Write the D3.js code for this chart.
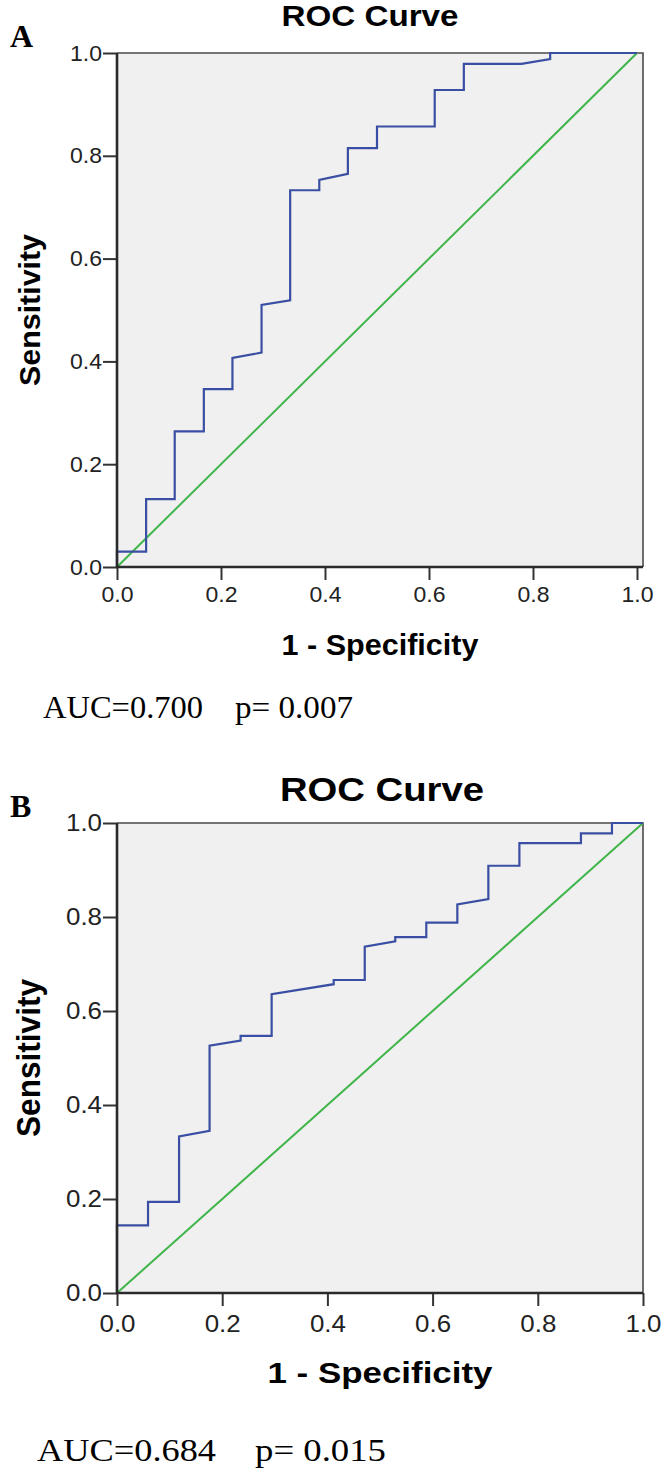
<!DOCTYPE html>
<html>
<head>
<meta charset="utf-8">
<script src="https://cdn.jsdelivr.net/npm/d3@7"></script>
<style>
  body { margin: 0; background: #fff; }
  svg { display: block; }
</style>
</head>
<body>
<svg id="chart"></svg>
<script>
// ROC points: x = 1 - specificity, y = sensitivity
const fprA = [0, 0, 0.056, 0.056, 0.111, 0.111, 0.167, 0.167, 0.222, 0.222, 0.278, 0.278, 0.333, 0.333,
              0.389, 0.389, 0.444, 0.444, 0.5, 0.5, 0.611, 0.611, 0.667, 0.667, 0.778, 0.833, 0.833, 1];
const tprA = [0, 0.030, 0.030, 0.132, 0.132, 0.264, 0.264, 0.346, 0.346, 0.407, 0.417, 0.510, 0.519, 0.733,
              0.733, 0.753, 0.765, 0.815, 0.815, 0.857, 0.857, 0.928, 0.928, 0.979, 0.979, 0.988, 1, 1];

const fprB = [0, 0, 0.059, 0.059, 0.118, 0.118, 0.176, 0.176, 0.235, 0.235, 0.294, 0.294, 0.412, 0.412,
              0.471, 0.471, 0.529, 0.529, 0.588, 0.588, 0.647, 0.647, 0.706, 0.706, 0.765, 0.765,
              0.882, 0.882, 0.941, 0.941, 1];
const tprB = [0, 0.144, 0.144, 0.194, 0.194, 0.333, 0.345, 0.526, 0.537, 0.547, 0.547, 0.636, 0.657, 0.666,
              0.666, 0.737, 0.748, 0.757, 0.757, 0.788, 0.788, 0.827, 0.838, 0.909, 0.909, 0.957,
              0.957, 0.978, 0.978, 1, 1];

// Reference line
const diagX = [0, 1];
const diagY = [0, 1];

const tickValues = [0, 0.2, 0.4, 0.6, 0.8, 1.0];
const panelLabels = ["A", "B"];
const titleText = "ROC Curve";
const xLabelText = "1 - Specificity";
const yLabelText = "Sensitivity";
const aucTexts = ["AUC=0.700", "AUC=0.684"];
const pTexts = ["p= 0.007", "p= 0.015"];

const sans = "'Liberation Sans', Arial, sans-serif";
const serif = "'Liberation Serif', 'Times New Roman', serif";

// Layout of each panel (pixels)
const layouts = [
    { x0: 117, x1: 637, frameRight: 643, top: 53, bottom: 567,
      labelY: 47, titleX: 370, titleY: 26, titleSize: 29, titleLen: 177,
      xLabY: 655, xLabSize: 29, xLabLen: 197,
      yLabX: 40, yLabSize: 30, yLabLen: 152,
      tickSize: 22, tickLen: 32, xTickPad: 6,
      statY: 718, aucX: 43, aucLen: 160, pX: 235, pLen: 118, statSize: 32 },
    { x0: 117, x1: 643, frameRight: 643, top: 823, bottom: 1293,
      labelY: 817, titleX: 382, titleY: 801, titleSize: 33, titleLen: 204,
      xLabY: 1383, xLabSize: 29, xLabLen: 225,
      yLabX: 40, yLabSize: 33, yLabLen: 158,
      tickSize: 23, tickLen: 36, xTickPad: 10,
      statY: 1461, aucX: 37, aucLen: 179, pX: 255, pLen: 131, statSize: 32 }
];

const series = [
    { fpr: fprA, tpr: tprA },
    { fpr: fprB, tpr: tprB }
];

const svg = d3.select("#chart")
    .attr("width", 662)
    .attr("height", 1472);

layouts.forEach((L, i) => {
    const g = svg.append("g");

    const x = d3.scaleLinear().domain([0, 1]).range([L.x0, L.x1]);
    const y = d3.scaleLinear().domain([0, 1]).range([L.bottom, L.top]);

    // Plot background
    g.append("rect")
        .attr("x", x(0))
        .attr("y", y(1))
        .attr("width", L.frameRight - x(0))
        .attr("height", y(0) - y(1))
        .attr("fill", "#f0f0f0");

    // Top and right frame
    g.append("path")
        .attr("d", `M${x(0)},${y(1)}H${L.frameRight}V${y(0)}`)
        .attr("fill", "none")
        .attr("stroke", "#4a4a4a")
        .attr("stroke-width", 1.6);

    // Diagonal reference
    const line = d3.line()
        .x(d => x(d[0]))
        .y(d => y(d[1]))
        .curve(d3.curveLinear);

    g.append("path")
        .datum(diagX.map((v, k) => [v, diagY[k]]))
        .attr("d", line)
        .attr("fill", "none")
        .attr("stroke", "#3fb54a")
        .attr("stroke-width", 2);

    // ROC curve
    const s = series[i];
    g.append("path")
        .datum(s.fpr.map((v, k) => [v, s.tpr[k]]))
        .attr("d", line)
        .attr("fill", "none")
        .attr("stroke", "#3a4fa3")
        .attr("stroke-width", 2.2)
        .attr("stroke-linejoin", "miter");

    // Axes
    const fmt = d3.format(".1f");
    const yAxis = g.append("g")
        .attr("transform", `translate(${x(0)},0)`)
        .call(d3.axisLeft(y).tickValues(tickValues).tickFormat(fmt)
            .tickSize(14).tickSizeOuter(0).tickPadding(1));
    const xAxis = g.append("g")
        .attr("transform", `translate(0,${y(0)})`)
        .call(d3.axisBottom(x).tickValues(tickValues).tickFormat(fmt)
            .tickSize(13).tickSizeOuter(0).tickPadding(L.xTickPad));

    [yAxis, xAxis].forEach(ax => {
        ax.select(".domain").remove();
        ax.selectAll(".tick line").attr("stroke", "#333").attr("stroke-width", 2);
        ax.selectAll(".tick text")
            .attr("fill", "#222")
            .style("font-family", sans)
            .style("font-size", L.tickSize + "px")
            .attr("textLength", L.tickLen)
            .attr("lengthAdjust", "spacingAndGlyphs");
    });

    // Thick left and bottom axis lines
    g.append("path")
        .attr("d", `M${x(0)},${y(1)}V${y(0)}H${L.frameRight}`)
        .attr("fill", "none")
        .attr("stroke", "#2a2a2a")
        .attr("stroke-width", 2.6);

    // Panel letter
    g.append("text")
        .attr("x", 10)
        .attr("y", L.labelY)
        .style("font-family", serif)
        .style("font-weight", "bold")
        .style("font-size", "32px")
        .text(panelLabels[i]);

    // Title
    g.append("text")
        .attr("x", L.titleX)
        .attr("y", L.titleY)
        .attr("text-anchor", "middle")
        .attr("textLength", L.titleLen)
        .attr("lengthAdjust", "spacingAndGlyphs")
        .style("font-family", sans)
        .style("font-weight", "bold")
        .style("font-size", L.titleSize + "px")
        .text(titleText);

    // X label
    g.append("text")
        .attr("x", (L.x0 + L.frameRight) / 2)
        .attr("y", L.xLabY)
        .attr("text-anchor", "middle")
        .attr("textLength", L.xLabLen)
        .attr("lengthAdjust", "spacingAndGlyphs")
        .style("font-family", sans)
        .style("font-weight", "bold")
        .style("font-size", L.xLabSize + "px")
        .text(xLabelText);

    // Y label
    g.append("text")
        .attr("transform", `translate(${L.yLabX},${(L.top + L.bottom) / 2}) rotate(-90)`)
        .attr("text-anchor", "middle")
        .attr("textLength", L.yLabLen)
        .attr("lengthAdjust", "spacingAndGlyphs")
        .style("font-family", sans)
        .style("font-weight", "bold")
        .style("font-size", L.yLabSize + "px")
        .text(yLabelText);

    // AUC and p value
    g.append("text")
        .attr("x", L.aucX)
        .attr("y", L.statY)
        .attr("textLength", L.aucLen)
        .attr("lengthAdjust", "spacingAndGlyphs")
        .style("font-family", serif)
        .style("font-size", L.statSize + "px")
        .text(aucTexts[i]);

    g.append("text")
        .attr("x", L.pX)
        .attr("y", L.statY)
        .attr("textLength", L.pLen)
        .attr("lengthAdjust", "spacingAndGlyphs")
        .style("font-family", serif)
        .style("font-size", L.statSize + "px")
        .text(pTexts[i]);
});
</script>
</body>
</html>
